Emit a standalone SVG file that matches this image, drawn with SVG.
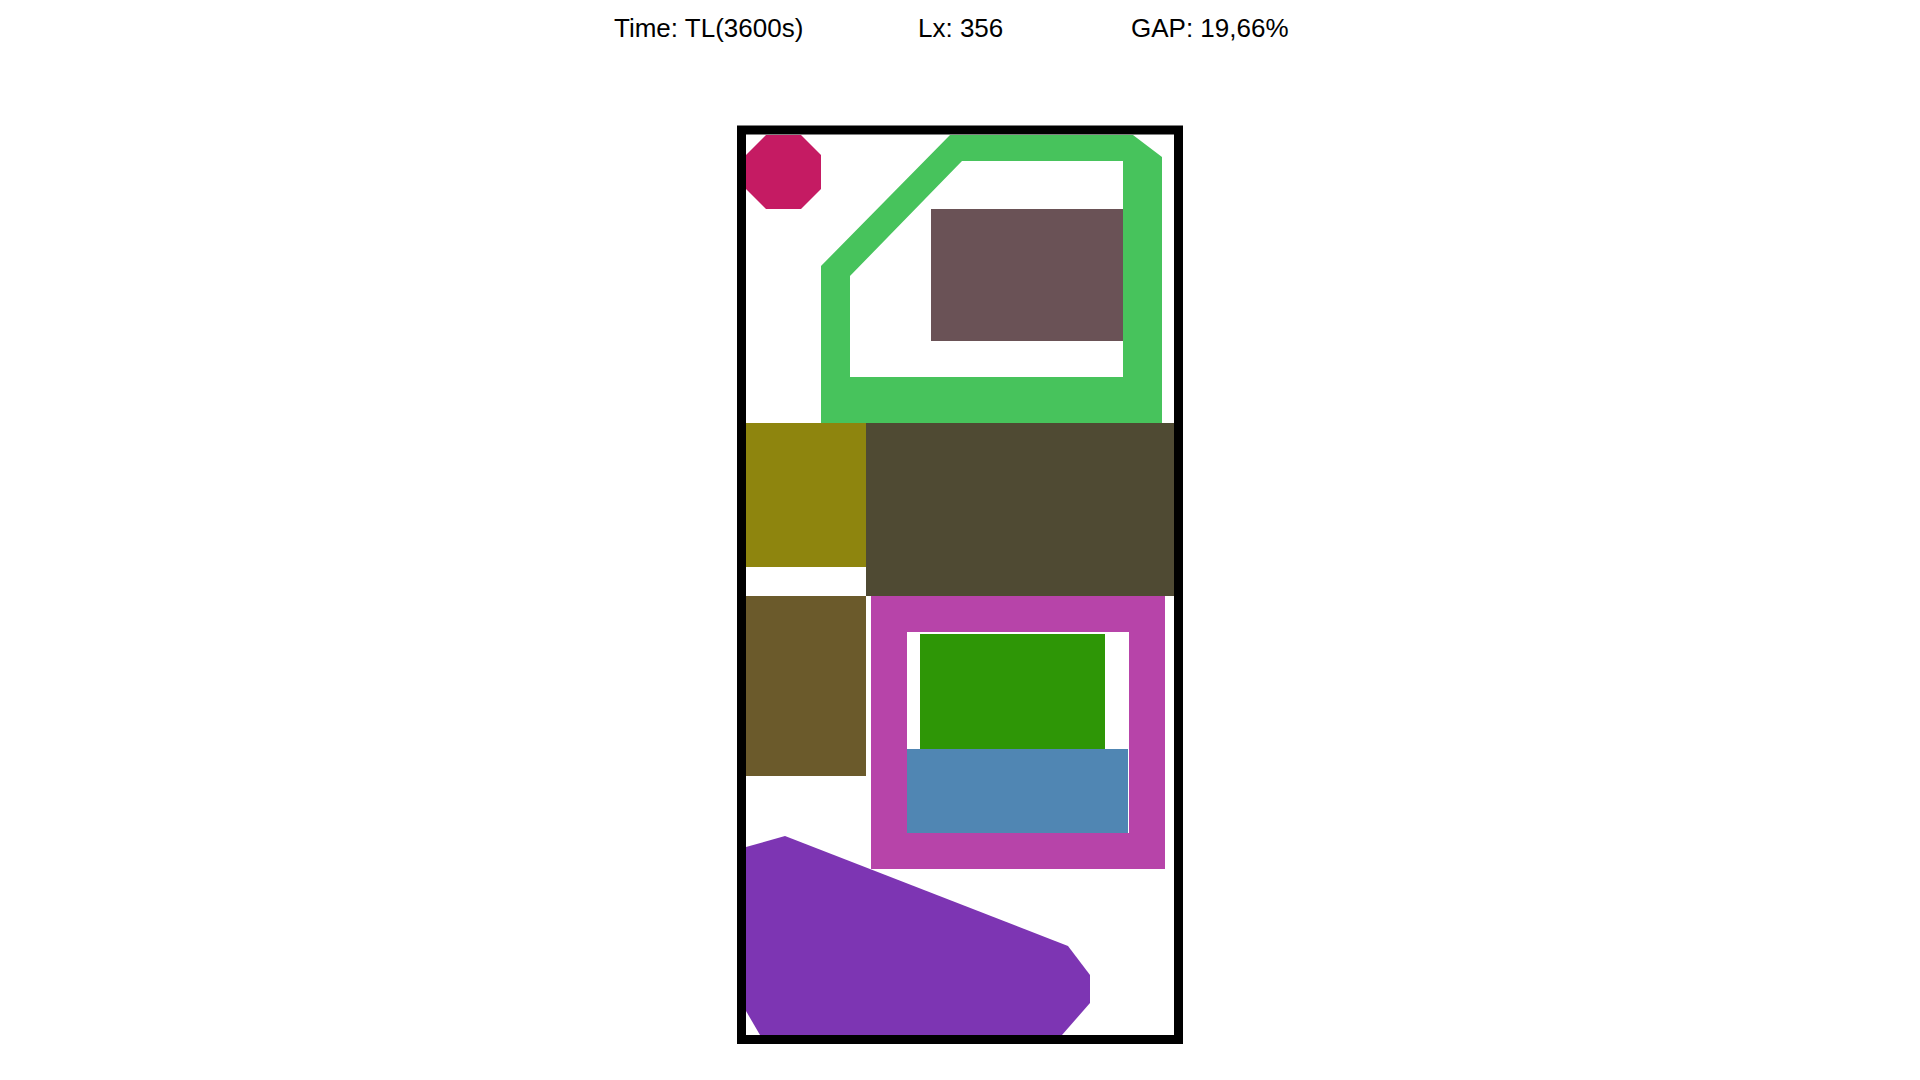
<svg xmlns="http://www.w3.org/2000/svg" width="1920" height="1080" viewBox="0 0 1920 1080">
<style>
.lbl{font-family:"Liberation Sans",Arial,sans-serif;font-size:26px;fill:#000}
</style>
<rect width="1920" height="1080" fill="#fff"/>
<text class="lbl" x="614" y="36.5">Time: TL(3600s)</text>
<text class="lbl" x="918" y="36.5">Lx: 356</text>
<text class="lbl" x="1131" y="36.5">GAP: 19,66%</text>
<g id="item-octagon"><polygon points="766,135 801,135 821,155 821,189 801,209 766,209 746,189 746,155" fill="#C51B63"/></g>
<g id="item-green-frame"><path fill="#47C35C" fill-rule="evenodd" d="M950,135 L1133,135 L1162,157 L1162,423 L821,423 L821,266 Z M962,161 L1123,161 L1123,377 L850,377 L850,276 Z"/></g>
<g id="item-mauve"><rect x="931" y="209" width="192" height="132" fill="#6A5256"/></g>
<g id="item-olive"><rect x="746" y="423" width="120" height="144" fill="#8E850E"/></g>
<g id="item-dark-olive"><rect x="866" y="423" width="308" height="173" fill="#4F4A33"/></g>
<g id="item-brown"><rect x="746" y="596" width="120" height="180" fill="#6B5A2B"/></g>
<g id="item-magenta-frame"><path fill="#B744A9" fill-rule="evenodd" d="M871,596 H1165 V869 H871 Z M907,632 V833 H1129 V632 Z"/></g>
<g id="item-green"><rect x="920" y="634" width="185" height="115" fill="#2E9606"/></g>
<g id="item-blue"><rect x="907" y="749" width="221" height="84" fill="#5086B3"/></g>
<g id="item-purple"><polygon points="746,847 785,836 1068,946 1090,975 1090,1003 1062,1035 760,1035 746,1011" fill="#7D35B3"/></g>
<g id="bin"><rect x="741.5" y="130" width="437" height="909.5" fill="none" stroke="#000" stroke-width="9"/></g>
<g id="connectors"></g>
</svg>
